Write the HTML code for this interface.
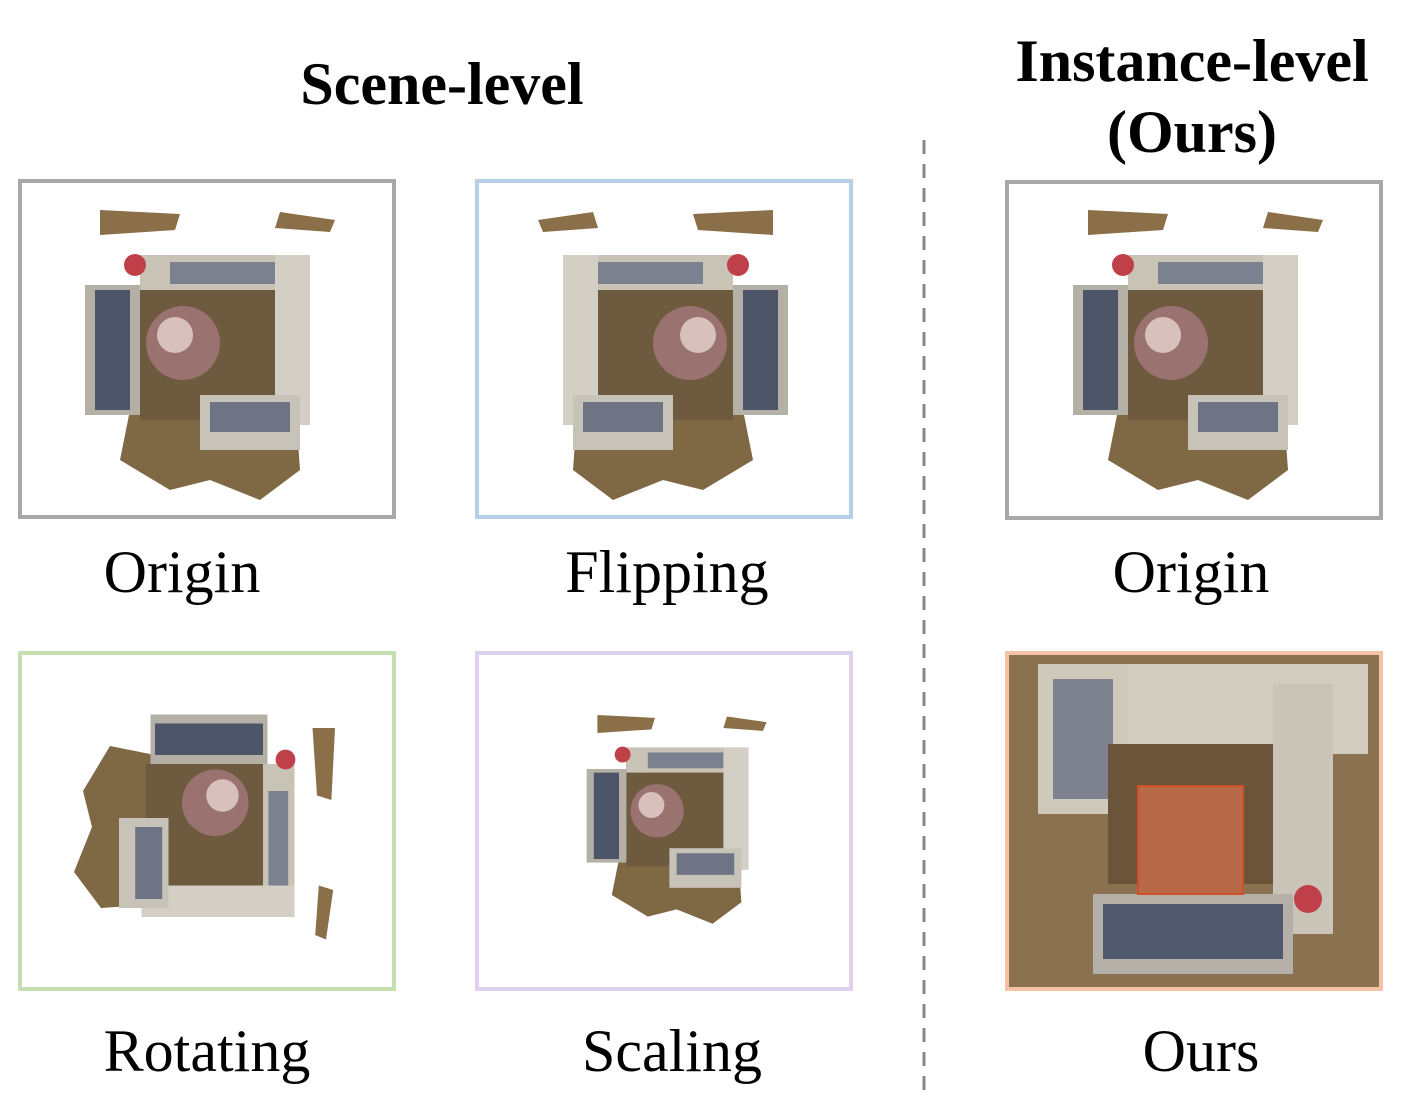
<!DOCTYPE html>
<html><head><meta charset="utf-8"><style>
body{margin:0;background:#fff;width:1406px;height:1116px;position:relative;overflow:hidden;font-family:"Liberation Serif",serif}
.t{position:absolute;text-align:center;color:#000}
.b{position:absolute;box-sizing:border-box;border:4px solid #aaa;width:378px;height:340px}
.l{position:absolute;font-size:60px;width:400px;text-align:center;line-height:1}
</style></head><body>
<svg width="0" height="0" style="position:absolute">
<defs>
<g id="room">
 <path d="M20,0 L100,4 L95,20 L20,25 Z" fill="#8a6f48"/>
 <path d="M200,2 L255,10 L250,22 L195,18 Z" fill="#8a6f48"/>
 <path d="M50,200 L215,190 L220,260 L180,290 L130,270 L90,280 L40,250 Z" fill="#7f6844"/>
 <rect x="60" y="60" width="160" height="150" fill="#6e5a3e"/>
 <rect x="60" y="45" width="165" height="35" fill="#c9c3b6"/>
 <rect x="90" y="52" width="120" height="22" fill="#7c8190"/>
 <rect x="195" y="45" width="35" height="170" fill="#d4cfc4"/>
 <rect x="5" y="75" width="55" height="130" fill="#b5b0a6"/>
 <rect x="15" y="80" width="35" height="120" fill="#4d5568"/>
 <rect x="120" y="185" width="100" height="55" fill="#c8c3b8"/>
 <rect x="130" y="192" width="80" height="30" fill="#6f7484"/>
 <circle cx="103" cy="133" r="37" fill="#9a7270"/>
 <circle cx="95" cy="125" r="18" fill="#d8c0bc"/>
 <circle cx="55" cy="55" r="11" fill="#c0404a"/>
</g>
</defs></svg>

<div class="t" style="left:242px;top:54px;width:400px;font-size:60px;font-weight:bold;line-height:1">Scene-level</div>
<div class="t" style="left:942px;top:26px;width:500px;font-size:60px;font-weight:bold;line-height:71px">Instance-level<br>(Ours)</div>

<svg style="position:absolute;left:0;top:0" width="1406" height="1116">
 <line x1="924" y1="140" x2="924" y2="1100" stroke="#888" stroke-width="3" stroke-dasharray="14,10"/>
 <use href="#room" transform="translate(80,210)"/>
 <use href="#room" transform="translate(793,210) scale(-1,1)"/>
 <use href="#room" transform="translate(1068,210)"/>
 <use href="#room" transform="translate(335,710) rotate(90) scale(0.9)" />
 <use href="#room" transform="translate(583,715) scale(0.72)"/>
 <g transform="translate(1008,654)">
  <rect width="373" height="335" fill="#8a7250"/>
  <rect x="30" y="10" width="330" height="90" fill="#d2ccbf"/>
  <rect x="30" y="10" width="90" height="150" fill="#cfc9bc"/>
  <rect x="45" y="25" width="60" height="120" fill="#7d8190"/>
  <rect x="100" y="90" width="170" height="140" fill="#6a553a"/>
  <rect x="265" y="30" width="60" height="250" fill="#cac4b8"/>
  <rect x="85" y="240" width="200" height="80" fill="#b4b0a8"/>
  <rect x="95" y="250" width="180" height="55" fill="#4f586c"/>
  <rect x="130" y="132" width="105" height="108" fill="#b86a48" stroke="#d0502a" stroke-width="2"/>
  <circle cx="300" cy="245" r="14" fill="#c0404a"/>
 </g>
</svg>

<div class="b" style="left:18px;top:179px;border-color:#a9a7a8"></div>
<div class="b" style="left:475px;top:179px;border-color:#b7cfe9"></div>
<div class="b" style="left:1005px;top:180px;border-color:#a9a7a8"></div>
<div class="b" style="left:18px;top:651px;border-color:#c6dfb1"></div>
<div class="b" style="left:475px;top:651px;border-color:#dfd0f0"></div>
<div class="b" style="left:1005px;top:651px;border-color:#f4c3a6"></div>

<div class="l" style="left:-18px;top:542px">Origin</div>
<div class="l" style="left:467px;top:542px">Flipping</div>
<div class="l" style="left:991px;top:542px">Origin</div>
<div class="l" style="left:7px;top:1021px">Rotating</div>
<div class="l" style="left:472px;top:1021px">Scaling</div>
<div class="l" style="left:1001px;top:1021px">Ours</div>
</body></html>
